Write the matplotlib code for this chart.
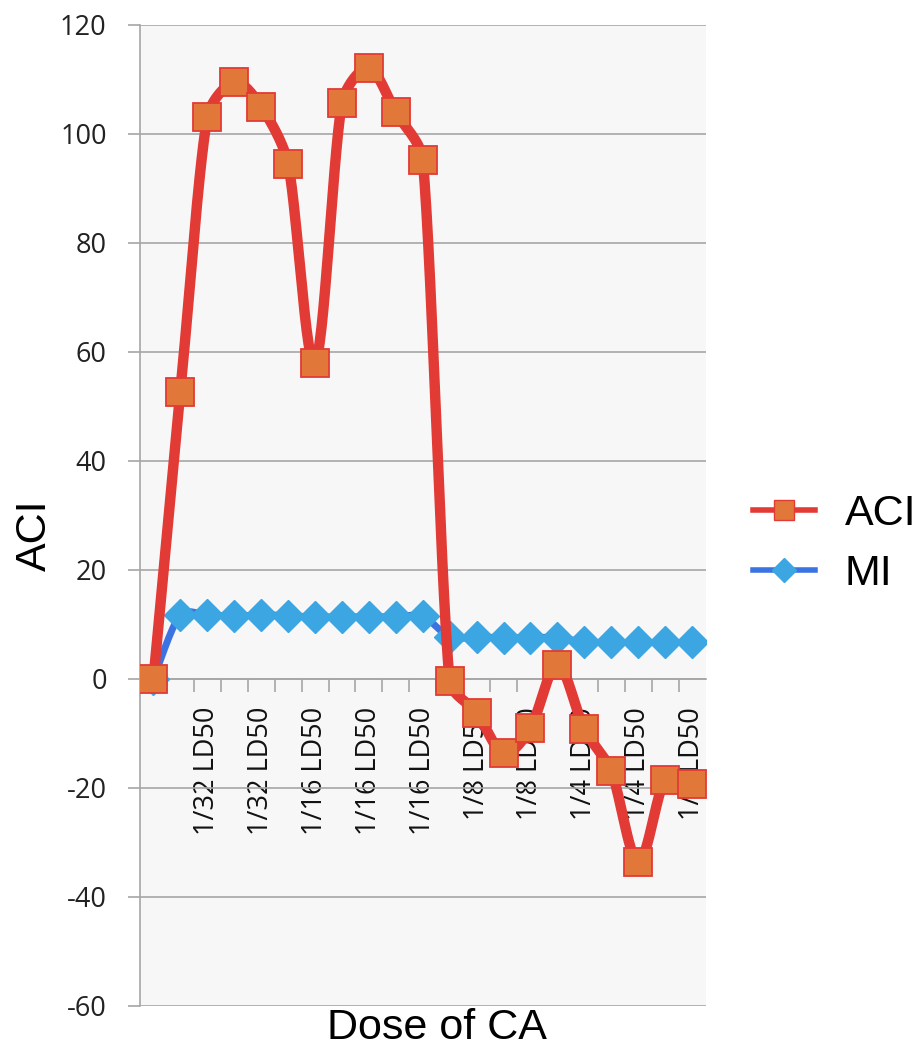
import numpy as np
import matplotlib
matplotlib.use("Agg")
import matplotlib.pyplot as plt
from matplotlib.lines import Line2D

categories = ["", "1/32 LD50", "1/32 LD50", "1/32 LD50", "1/32 LD50", "1/32 LD50",
              "1/16 LD50", "1/16 LD50", "1/16 LD50", "1/16 LD50", "1/16 LD50",
              "1/8 LD50", "1/8 LD50", "1/8 LD50", "1/8 LD50", "1/8 LD50",
              "1/4 LD50", "1/4 LD50", "1/4 LD50", "1/4 LD50", "1/4 LD50"]
aci = [0, 52.7, 103.1, 109.5, 105, 94.5, 58, 105.7, 112.1, 104, 95.2,
       -0.4, -6.2, -13.6, -9, 2.6, -9.2, -16.9, -33.6, -18.5, -19.3]
mi = [0, 11.8, 11.8, 11.5, 11.8, 11.6, 11.4, 11.4, 11.4, 11.4, 11.5,
      7.7, 7.7, 7.6, 7.6, 7.6, 6.8, 6.7, 6.7, 6.7, 6.7]
yticks = [-60, -40, -20, 0, 20, 40, 60, 80, 100, 120]

ACI_LINE = "#E23A35"
ACI_FILL = "#E2773A"
MI_LINE = "#3C73E2"
MI_FILL = "#3BA6E2"

# approximate pixel scale of the axes, used only to shape the smooth curve
SX, SY = 27.0, 5.45


def smooth(x, y, n=30):
    P = np.column_stack([np.asarray(x, float) * SX, np.asarray(y, float) * SY])
    m = len(P)
    T = []
    for i in range(m):
        a = P[i - 1] if i > 0 else P[i]
        b = P[i + 1] if i < m - 1 else P[i]
        T.append((b - a) / 6.0)
    out = [P[0]]
    for i in range(m - 1):
        p1, p2 = P[i], P[i + 1]
        chord = np.hypot(*(p2 - p1))
        t1, t2 = T[i].copy(), T[i + 1].copy()
        for tv in (t1, t2):
            ln = np.hypot(*tv)
            lim = chord / 3.0
            if ln > lim and ln > 0:
                tv *= lim / ln
        c1 = p1 + t1
        c2 = p2 - t2
        t = np.linspace(0, 1, n)[1:, None]
        seg = ((1 - t) ** 3) * p1 + 3 * ((1 - t) ** 2) * t * c1 + 3 * (1 - t) * t ** 2 * c2 + t ** 3 * p2
        out.extend(seg)
    out = np.array(out)
    return out[:, 0] / SX, out[:, 1] / SY


fig = plt.figure(figsize=(9.18, 10.48), dpi=100)
ax = fig.add_axes([140 / 918, 1 - 1006 / 1048, (705.5 - 140) / 918, (1006 - 25) / 1048])
ax.set_facecolor("#F7F7F7")

x = np.arange(len(categories))
sx, sy = smooth(x, mi)
ax.plot(sx, sy, color=MI_LINE, lw=5, zorder=3, solid_capstyle="round")
ax.plot(x, mi, ls="none", marker="D", ms=16.5, mfc=MI_FILL, mec=MI_FILL, zorder=4)
sx, sy = smooth(x, aci)
ax.plot(sx, sy, color=ACI_LINE, lw=7.5, zorder=5, solid_capstyle="round", solid_joinstyle="round")
ax.plot(x, aci, ls="none", marker="s", ms=20, mfc=ACI_FILL, mec=ACI_LINE, mew=1.3, zorder=6)

ax.set_xlim(-0.5, len(categories) - 0.5)
ax.set_ylim(-60, 120)
ax.set_yticks(yticks)
ax.set_yticklabels([str(v) for v in yticks], fontfamily="Open Sans", fontsize=19.5, color="#222222")
ax.yaxis.grid(True, color="#A6A6A6", lw=1.2)
ax.set_axisbelow(True)
ax.tick_params(axis="y", direction="out", length=9, width=1.2, color="#A6A6A6", pad=15)

for s in ["top", "right"]:
    ax.spines[s].set_visible(False)
ax.spines["left"].set_color("#A6A6A6")
ax.spines["left"].set_linewidth(1.2)
ax.spines["bottom"].set_position(("data", 0))
ax.spines["bottom"].set_color("#A6A6A6")
ax.spines["bottom"].set_linewidth(1.2)

ax.set_xticks(np.arange(len(categories) - 1) + 0.5)
ax.set_xticklabels([])
ax.tick_params(axis="x", which="major", direction="out", length=9, width=1.2, color="#A6A6A6")
lab_idx = list(range(2, len(categories), 2))
ax.set_xticks(lab_idx, minor=True)
ax.set_xticklabels([categories[i] for i in lab_idx], minor=True, rotation=90,
                   fontfamily="Open Sans", fontsize=19.5, color="#111111", va="top", ha="center")
ax.tick_params(axis="x", which="minor", length=0, pad=20)

fig.text(35 / 918, 1 - 535 / 1048, "ACI", rotation=90, fontfamily="Liberation Sans",
         fontsize=31, ha="center", va="center")
fig.text(437 / 918, 1 - 1028 / 1048, "Dose of CA", fontfamily="Liberation Sans",
         fontsize=31, ha="center", va="center")

handles = [Line2D([], [], color=ACI_LINE, lw=4, marker="s", ms=14, mfc=ACI_FILL, mec=ACI_LINE),
           Line2D([], [], color=MI_LINE, lw=4, marker="D", ms=12, mfc=MI_FILL, mec=MI_FILL)]
fig.legend(handles, ["ACI", "MI"], loc="center left", bbox_to_anchor=(753 / 918, 1 - 544 / 1048),
           frameon=False, prop={"family": "Liberation Sans", "size": 31},
           handlelength=1.45, handletextpad=0.68, labelspacing=0.46, borderpad=0, borderaxespad=0)

fig.savefig("out.png", dpi=100)
